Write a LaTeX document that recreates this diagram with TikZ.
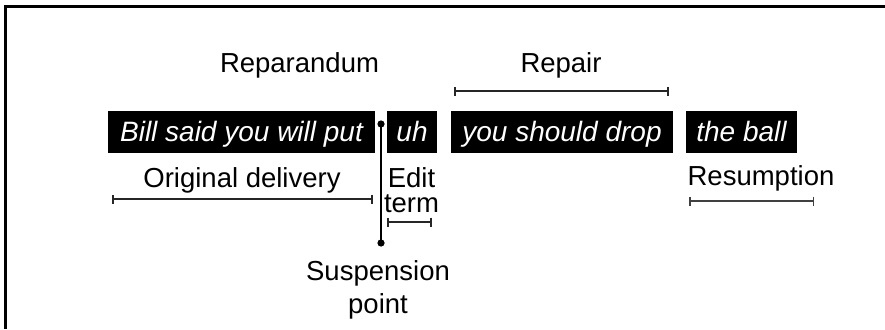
\documentclass[tikz,border=0pt]{standalone}
\usepackage{fontspec}
\setmainfont{Liberation Sans}
\usetikzlibrary{arrows.meta}
\begin{document}
\begin{tikzpicture}[x=1pt,y=-1pt,
  lbl/.style={inner sep=0pt, font=\fontsize{27.5}{25}\selectfont, anchor=base},
  word/.style={fill=black, text=white, inner sep=0pt, text height=30.7pt, text depth=11.3pt,
               font=\fontsize{28}{28}\selectfont\itshape},
  spanline/.style={line width=2pt, draw=black!85, {Bar[width=9pt,line width=1.8pt]}-{Bar[width=9pt,line width=1.8pt]}},
  thinspan/.style={line width=1.5pt, draw=black!75, {Bar[width=9pt,line width=1.5pt]}-{Bar[width=9pt,line width=1.5pt]}},
  susp/.style={line width=2.5pt, draw=black}
]
\useasboundingbox (0,0) rectangle (885,329);
% frame (cropped)
\coordinate (f1) at (5.7,329);
\coordinate (f2) at (5.7,6.5);
\coordinate (f3) at (885,6.5);
\draw[line width=2.5pt] (f1) -- (f2) -- (f3);

% word boxes
\node[word, minimum width=267pt] (w1) at (241.5,132) {Bill said you will put};
\node[word, minimum width=50pt]  (w2) at (412,132) {uh};
\node[word, minimum width=222pt] (w3) at (562,132) {you should drop};
\node[word, minimum width=111pt] (w4) at (741.5,132) {the ball};

% top labels
\node[lbl] (rep) at (299.5,72) {Reparandum};
\node[lbl] (repair) at (561,72) {Repair};
\coordinate (ra) at (454,91);
\coordinate (rb) at (669,91);
\draw[spanline] (ra) -- (rb);

% lower labels
\node[lbl] (orig) at (242,187) {Original delivery};
\coordinate (oa) at (112,199);
\coordinate (ob) at (373,199);
\draw[spanline] (oa) -- (ob);

\node[lbl, align=center, font=\fontsize{27.5}{25}\selectfont] (edit) at (411.5,212) {Edit\\term};
\coordinate (ea) at (387,222);
\coordinate (eb) at (432,222);
\draw[spanline] (ea) -- (eb);

\node[lbl] (resum) at (761,185) {Resumption};
\coordinate (sa) at (689,201);
\coordinate (sb) at (814,201);
\draw[thinspan] (sa) -- (sb);

% suspension point
\coordinate (p1) at (381,124);
\coordinate (p2) at (381,243);
\draw[susp] (p1) -- (p2);
\fill (p1) circle (3.6pt);
\fill (p2) circle (3.6pt);
\node[lbl, align=center, font=\fontsize{27.5}{33}\selectfont] (spt) at (378,313) {Suspension\\point};
\end{tikzpicture}
\end{document}
